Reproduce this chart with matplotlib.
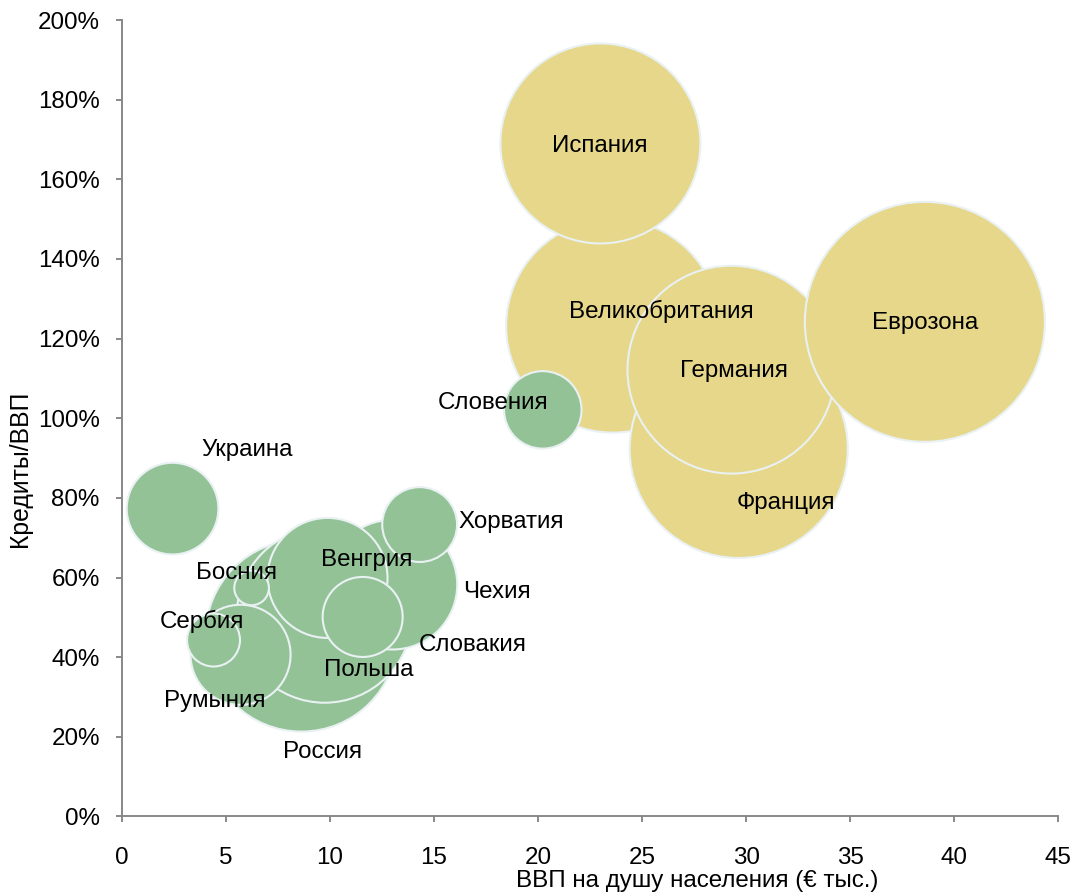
import matplotlib
matplotlib.use("Agg")
import matplotlib.pyplot as plt
from matplotlib.ticker import PercentFormatter, MultipleLocator

plt.rcParams['font.family'] = ['Liberation Sans', 'DejaVu Sans']

# Западная Европа (рисуется первой, снизу)
west_names = ['Великобритания', 'Франция', 'Германия', 'Еврозона', 'Испания']
west_gdp = [23.6, 29.65, 29.3, 38.6, 23.0]        # ВВП на душу, € тыс.
west_credit = [123.2, 92.3, 112.2, 124.2, 169.0]  # кредиты/ВВП, %
west_bubble = [114, 119, 108, 144, 100]           # относительный размер пузыря

# Восточная Европа
east_names = ['Россия', 'Польша', 'Чехия', 'Венгрия', 'Румыния', 'Словакия',
              'Босния', 'Сербия', 'Хорватия', 'Украина', 'Словения']
east_gdp = [8.63, 9.74, 13.0, 9.88, 5.7, 11.57, 6.23, 4.4, 14.31, 2.43, 20.23]
east_credit = [45.4, 50.6, 58.2, 59.9, 40.6, 50.1, 57.4, 44.3, 73.3, 77.3, 102.1]
east_bubble = [92, 77, 42, 36, 25, 16, 3, 7, 14, 21, 15]

# подписи стоят не в центре пузыря, а сдвинуты вручную (как в исходнике)
label_pos = {
    'Испания': (22.97, 168.3), 'Великобритания': (25.95, 126.8),
    'Германия': (29.41, 111.9), 'Франция': (31.9, 78.8),
    'Еврозона': (38.62, 124.0), 'Словения': (17.82, 103.9),
    'Украина': (5.99, 92.1), 'Хорватия': (18.69, 74.0),
    'Венгрия': (11.74, 64.4), 'Босния': (5.51, 61.2),
    'Чехия': (18.01, 56.4), 'Сербия': (3.82, 48.9),
    'Словакия': (16.86, 43.1), 'Польша': (11.85, 36.8),
    'Румыния': (4.47, 29.0), 'Россия': (9.64, 16.2),
}

scale = 207.4
fig = plt.figure(figsize=(10.74, 8.93), dpi=100)
ax = fig.add_axes([0.1136, 0.0857, 0.8715, 0.8919])

ax.scatter(west_gdp, west_credit, s=[b * scale for b in west_bubble],
           color='#E6D78B', edgecolors='#E9F1F3', linewidths=1.5, zorder=2)
ax.scatter(east_gdp, east_credit, s=[b * scale for b in east_bubble],
           color='#93C297', edgecolors='#E9F1F3', linewidths=1.5, zorder=3)

for name, (lx, ly) in label_pos.items():
    ax.text(lx, ly, name, ha='center', va='center', fontsize=17.4,
            color='black', zorder=5)

ax.set_xlim(0, 45)
ax.set_ylim(0, 200)
ax.xaxis.set_major_locator(MultipleLocator(5))
ax.yaxis.set_major_locator(MultipleLocator(20))
ax.yaxis.set_major_formatter(PercentFormatter(decimals=0))

for side in ['top', 'right']:
    ax.spines[side].set_visible(False)
for side in ['left', 'bottom']:
    ax.spines[side].set_color('#888888')
    ax.spines[side].set_linewidth(1.4)
ax.tick_params(axis='both', direction='out', length=4, width=1.4,
               color='#888888', labelsize=17.4, labelcolor='black')
ax.tick_params(axis='x', pad=18)
ax.tick_params(axis='y', pad=12)

ax.set_xlabel('ВВП на душу населения (€ тыс.)', fontsize=17.4)
ax.set_ylabel('Кредиты/ВВП', fontsize=17.8)
ax.xaxis.set_label_coords(0.614, -0.067)
ax.yaxis.set_label_coords(-0.096, 0.436)

fig.savefig('out.png', dpi=100)
